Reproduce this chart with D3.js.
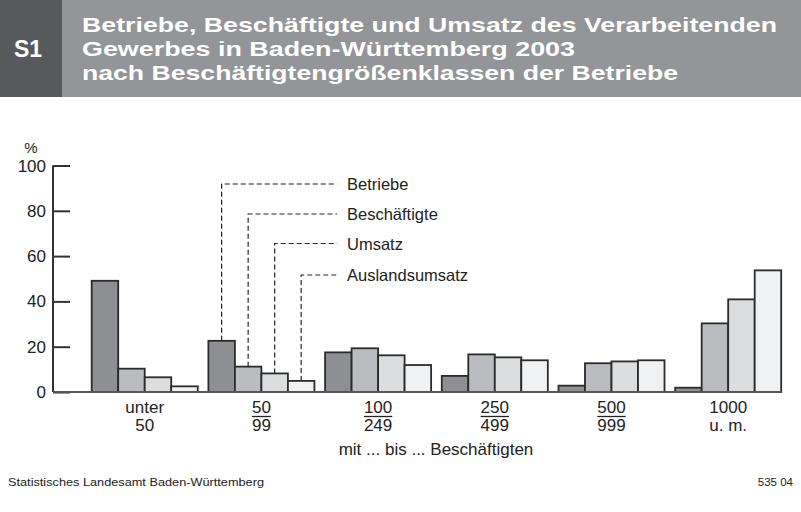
<!DOCTYPE html>
<html><head><meta charset="utf-8">
<script src="https://cdn.jsdelivr.net/npm/d3@7"></script>
<style>
body{margin:0;background:#fff;}
svg{display:block;font-family:"Liberation Sans",Arial,sans-serif;}
</style></head>
<body><svg id="c" width="801" height="512"></svg>
<script>
const categories = ["unter 50","50–99","100–249","250–499","500–999","1000 u. m."];
const catTop = ["unter","50","100","250","500","1000"];
const catBottom = ["50","99","249","499","999","u. m."];
const catFraction = [false,true,true,true,true,false];
const series = ["Betriebe","Beschäftigte","Umsatz","Auslandsumsatz"];
const betriebe = [49.1,22.6,17.5,7.1,2.8,1.9];
const beschaeftigte = [10.3,11.2,19.3,16.6,12.7,30.3];
const umsatz = [6.5,8.2,16.2,15.3,13.5,40.9];
const auslandsumsatz = [2.5,4.9,11.9,14.0,14.0,53.7];
const yTicks = [0,20,40,60,80,100];
const titleLines = ["Betriebe, Beschäftigte und Umsatz des Verarbeitenden","Gewerbes in Baden-Württemberg 2003","nach Beschäftigtengrößenklassen der Betriebe"];
const colors = ["#8e8f93","#bbbcc0","#dcdddf","#f0f1f3"];

const values = [betriebe,beschaeftigte,umsatz,auslandsumsatz];
const svg = d3.select("#c");

// header
svg.append("rect").attr("x",0).attr("y",0).attr("width",801).attr("height",97).attr("fill","#939598");
svg.append("rect").attr("x",0).attr("y",0).attr("width",62).attr("height",97).attr("fill","#58595b");
svg.append("text").attr("x",28).attr("y",57).attr("text-anchor","middle").attr("fill","#fff")
  .attr("font-size",23).attr("font-weight","bold").text("S1");
const titleW = [695,493,596];
titleLines.forEach((t,i)=>{
  svg.append("text").attr("x",82).attr("y",31.5+i*24.3).attr("fill","#fff")
    .attr("font-size",21).attr("font-weight","bold")
    .attr("textLength",titleW[i]).attr("lengthAdjust","spacingAndGlyphs").text(t);
});

// scales
const x = d3.scaleBand().domain(categories).range([91.7,781.2]).paddingInner(0.0914).paddingOuter(0);
const xs = d3.scaleBand().domain(series).range([0,x.bandwidth()]).padding(0);
const y = d3.scaleLinear().domain([0,100]).range([392,165.5]);

// y axis
const yAxis = d3.axisRight(y).tickValues(yTicks).tickSize(17).tickFormat("");
const ga = svg.append("g").attr("transform","translate(53,0)").call(yAxis);
ga.select(".domain").attr("stroke","#333").attr("stroke-width",2).attr("d","M0,"+y(100)+"V"+y(0));
ga.selectAll(".tick line").attr("stroke","#333").attr("stroke-width",2);
yTicks.forEach(v=>{
  svg.append("text").attr("x",46).attr("y",y(v)+6).attr("text-anchor","end")
    .attr("font-size",17).attr("fill","#222").text(v);
});
svg.append("text").attr("x",31).attr("y",153).attr("text-anchor","middle").attr("font-size",15).attr("fill","#222").text("%");

// bars
const g = svg.append("g");
categories.forEach((c,ci)=>{
  series.forEach((s,si)=>{
    const v = values[si][ci];
    g.append("rect").attr("x",x(c)+xs(s)).attr("y",y(v))
      .attr("width",xs.bandwidth()).attr("height",y(0)-y(v))
      .attr("fill",colors[si]).attr("stroke","#2b2b2b").attr("stroke-width",1.8);
  });
});
// baseline
svg.append("line").attr("x1",53).attr("x2",781.5).attr("y1",y(0)).attr("y2",y(0)).attr("stroke","#555").attr("stroke-width",2);

// category labels
categories.forEach((c,ci)=>{
  const cx = x(c)+x.bandwidth()/2;
  const t1 = svg.append("text").attr("x",cx).attr("y",413).attr("text-anchor","middle").attr("font-size",17).attr("fill","#222").text(catTop[ci]);
  svg.append("text").attr("x",cx).attr("y",431).attr("text-anchor","middle").attr("font-size",17).attr("fill","#222").text(catBottom[ci]);
  if(catFraction[ci]){
    const w = Math.max(t1.node().getComputedTextLength(), 0);
    svg.append("line").attr("x1",cx-w/2).attr("x2",cx+w/2).attr("y1",416.5).attr("y2",416.5).attr("stroke","#222").attr("stroke-width",1.3);
  }
});
svg.append("text").attr("x",436).attr("y",455).attr("text-anchor","middle").attr("font-size",17).attr("fill","#222").text("mit ... bis ... Beschäftigten");

// legend leader lines (group 2)
const legY = [184,214,243.5,275];
const lc = categories[1];
series.forEach((s,si)=>{
  const bx = x(lc)+xs(s)+xs.bandwidth()/2;
  const top = y(values[si][1]);
  svg.append("path").attr("d",`M${bx},${top}V${legY[si]}H337`).attr("fill","none")
    .attr("stroke","#222").attr("stroke-width",1.2).attr("stroke-dasharray","5,3");
  svg.append("text").attr("x",347).attr("y",legY[si]+6).attr("font-size",16.5).attr("fill","#222").text(s);
});

// footer
svg.append("text").attr("x",8).attr("y",486).attr("font-size",11.5).attr("fill","#222")
  .attr("textLength",256).attr("lengthAdjust","spacingAndGlyphs").text("Statistisches Landesamt Baden-Württemberg");
svg.append("text").attr("x",793).attr("y",486).attr("text-anchor","end").attr("font-size",11.5).attr("fill","#222").text("535 04");
</script></body></html>
